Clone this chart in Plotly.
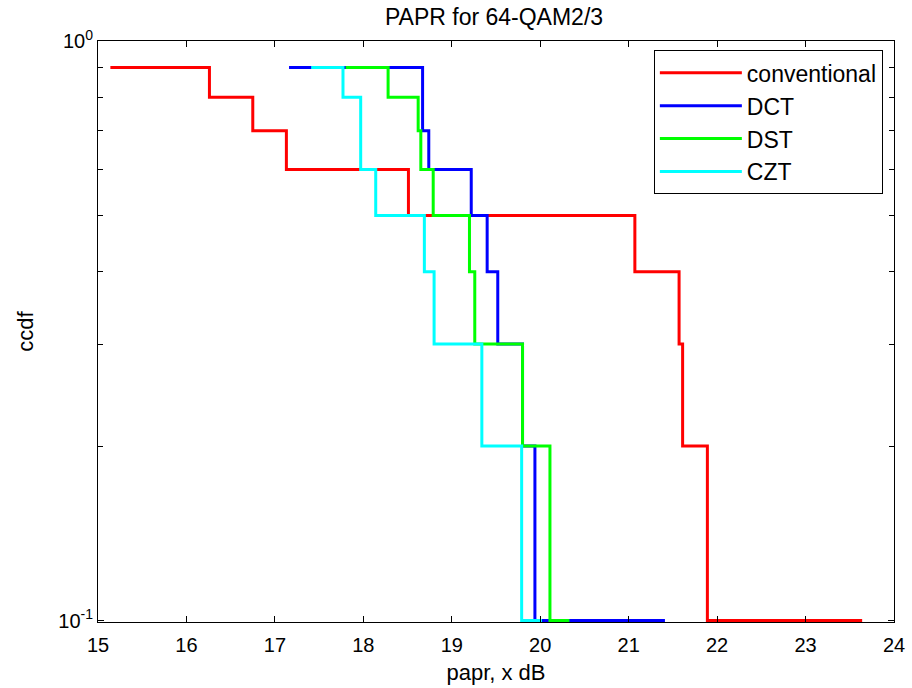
import plotly.graph_objects as go

# ---- data ----
conv_x = [15.14, 16.26, 16.75, 17.13, 18.51, 21.07, 21.57, 21.61, 21.89, 23.64]
conv_y = [0.9, 0.8, 0.7, 0.6, 0.5, 0.4, 0.3, 0.2, 0.1, 0.1]

dct_x = [17.16, 18.67, 18.74, 19.22, 19.40, 19.52, 19.80, 19.94, 21.41]
dct_y = [0.9, 0.7, 0.6, 0.5, 0.4, 0.3, 0.2, 0.1, 0.1]

dst_x = [17.80, 18.28, 18.62, 18.65, 18.79, 19.20, 19.26, 19.80, 20.11, 20.33]
dst_y = [0.9, 0.8, 0.7, 0.6, 0.5, 0.4, 0.3, 0.2, 0.1, 0.1]

czt_x = [17.41, 17.77, 17.97, 18.14, 18.69, 18.80, 19.34, 19.79, 20.02]
czt_y = [0.9, 0.8, 0.6, 0.5, 0.4, 0.3, 0.2, 0.1, 0.1]

x_ticks = [15, 16, 17, 18, 19, 20, 21, 22, 23, 24]
y_ticks = [0.1, 1]
y_ticktext = ["10<sup>-1</sup>", "10<sup>0</sup>"]
y_minor = [0.2, 0.3, 0.4, 0.5, 0.6, 0.7, 0.8, 0.9]

series = [
    ("conventional", conv_x, conv_y, "#FF0000"),
    ("DCT", dct_x, dct_y, "#0000FF"),
    ("DST", dst_x, dst_y, "#00FF00"),
    ("CZT", czt_x, czt_y, "#00FFFF"),
]

FONT = "Liberation Sans, Arial, sans-serif"

fig = go.Figure()
for name, xs, ys, col in series:
    fig.add_trace(go.Scatter(x=xs, y=ys, mode="lines", name=name,
                             line=dict(color=col, width=3, shape="hv")))

fig.update_layout(
    width=912, height=688,
    margin=dict(l=98, r=18, t=41, b=66, autoexpand=False),
    paper_bgcolor="white", plot_bgcolor="white",
    font=dict(family=FONT, size=20, color="black"),
    title=dict(text="PAPR for 64-QAM2/3", x=494 / 912, xanchor="center",
               y=1 - 17 / 688, yanchor="middle",
               font=dict(family=FONT, size=23, color="black")),
    showlegend=True,
    legend=dict(x=0.986, xanchor="right", y=0.984, yanchor="top",
                bordercolor="black", borderwidth=1, bgcolor="white",
                font=dict(family=FONT, size=23, color="black"),
                tracegroupgap=0, itemwidth=82),
)

fig.update_xaxes(
    range=[15, 24], tickvals=x_ticks, ticktext=[str(v) for v in x_ticks],
    ticks="inside", ticklen=6, tickcolor="black",
    showline=True, linecolor="black", linewidth=1, mirror="ticks",
    showgrid=False, zeroline=False, automargin=False,
    ticklabelstandoff=5,
    tickfont=dict(family=FONT, size=20, color="black"),
    title=dict(text="papr, x dB", font=dict(family=FONT, size=22, color="black"), standoff=9),
)

fig.update_yaxes(
    type="log", range=[-1.0025, 0],
    tickvals=y_ticks, ticktext=y_ticktext,
    ticks="inside", ticklen=6, tickcolor="black",
    minor=dict(tickvals=y_minor, ticks="inside", ticklen=5, tickcolor="black", showgrid=False),
    showline=True, linecolor="black", linewidth=1, mirror="ticks",
    showgrid=False, zeroline=False, automargin=False,
    tickfont=dict(family=FONT, size=20, color="black"),
    title=dict(text="ccdf", font=dict(family=FONT, size=22, color="black"), standoff=18),
)

fig.write_html("out.html")
